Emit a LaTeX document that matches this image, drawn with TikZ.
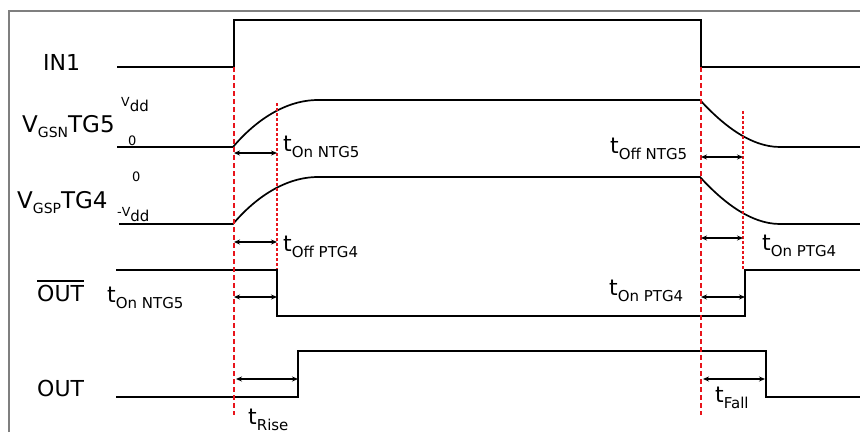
\documentclass[tikz,border=0pt]{standalone}
\usepackage{fontspec}
\setmainfont{DejaVu Sans}
\usetikzlibrary{arrows.meta}
\definecolor{ink}{HTML}{000000}
\definecolor{marker}{HTML}{E8141B}
\definecolor{frameline}{HTML}{7F7F7F}
\newcommand\bigsz{\fontsize{22}{24}\selectfont}
\newcommand\subsz{\fontsize{15}{16}\selectfont}
\newcommand\levsz{\fontsize{13}{14}\selectfont}
\newcommand\tdelay[1]{{\bigsz t}\raisebox{-6pt}{\subsz #1}}
\newcommand\vgs[2]{{\fontsize{23}{24}\selectfont V}\raisebox{-5pt}{\fontsize{14}{15}\selectfont #1}{\fontsize{23}{24}\selectfont #2}}
\newcommand\vddlab{{\fontsize{12.5}{13}\selectfont V}\raisebox{-5pt}{\fontsize{15}{16}\selectfont dd}}
\newcommand\barred[1]{\vbox{\hrule height 1.6pt\kern 3pt\hbox{#1}}}

\begin{document}
\begin{tikzpicture}[x=1pt,y=-1pt,
  signal/.style={draw=ink,line width=1.7pt,line join=miter},
  edgemark/.style={draw=marker,line width=2pt,dash pattern=on 5pt off 3pt},
  delaymark/.style={draw=marker,line width=1.2pt,dash pattern=on 3pt off 2pt},
  span/.style={draw=ink,line width=1.3pt,{Stealth[length=6pt,width=5pt]}-{Stealth[length=6pt,width=5pt]}},
  lab/.style={anchor=base west,inner sep=0pt,text=ink}
]
\useasboundingbox (0,0) rectangle (860,432);
\draw[frameline,line width=1.2pt] (9,432) -- (9,11) -- (860,11);

% signal names
\node[lab] (in) at (43,70) {\bigsz IN1};
\node[lab] (vgsn) at (22,132) {\vgs{GSN}{TG5}};
\node[lab] (vgsp) at (17,208) {\vgs{GSP}{TG4}};
\node[lab] (outb) at (37,301) {\barred{\bigsz OUT}};
\node[lab] (out) at (37,396) {\bigsz OUT};

% level marks
\node[lab] (nhigh) at (121,106) {\vddlab};
\node[lab] (nlow) at (128,145) {\levsz 0};
\node[lab] (phigh) at (132,181) {\levsz 0};
\node[lab] (plow) at (117,216) {{\levsz -}\vddlab};

% waveforms
\draw[signal] (117,67) -- (234,67) -- (234,20) -- (701,20) -- (701,67) -- (860,67);
\draw[signal] (117,147) -- (233,147) .. controls (255,121) and (285,100) .. (318,100)
  -- (700,100) .. controls (722,124) and (750,147) .. (780,147) -- (860,147);
\draw[signal] (119,224) -- (233,224) .. controls (255,198) and (285,177) .. (318,177)
  -- (700,177) .. controls (722,201) and (750,224) .. (780,224) -- (860,224);
\draw[signal] (116,270) -- (277,270) -- (277,316) -- (745,316) -- (745,270) -- (860,270);
\draw[signal] (116,397) -- (298,397) -- (298,351) -- (766,351) -- (766,397) -- (860,397);

% switching instants
\draw[edgemark] (234,67) -- (234,415);
\draw[edgemark] (701,67) -- (701,415);
\draw[delaymark] (277,103) -- (277,269);
\draw[delaymark] (743,111) -- (743,269);

% delays
\foreach \a/\b/\y in {234/277/153,234/277/242,234/277/297,236/298/379,
                      701/743/157,701/743/238,701/745/297,703/765/379}
  \draw[span] (\a,\y) -- (\b,\y);

\node[lab] (tonn) at (283,151) {\tdelay{On NTG5}};
\node[lab] (toffp) at (283,251) {\tdelay{Off PTG4}};
\node[lab] (tonnb) at (107,302) {\tdelay{On NTG5}};
\node[lab] (trise) at (248,424) {\tdelay{Rise}};
\node[lab] (toffn) at (610,153) {\tdelay{Off NTG5}};
\node[lab] (tonp) at (762,250) {\tdelay{On PTG4}};
\node[lab] (tonpb) at (609,295) {\tdelay{On PTG4}};
\node[lab] (tfall) at (715,402) {\tdelay{Fall}};
\end{tikzpicture}
\end{document}
